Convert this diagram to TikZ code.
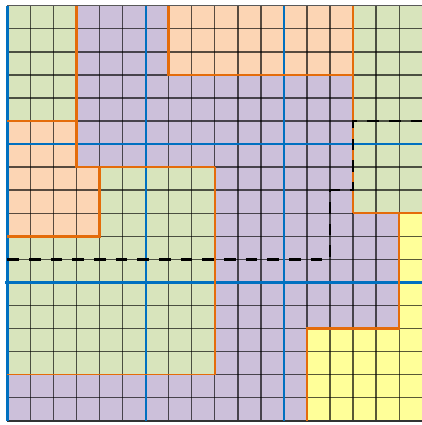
\documentclass[tikz,border=0pt]{standalone}
\usetikzlibrary{calc}
\definecolor{regGreen}{HTML}{D8E4BC}
\definecolor{regPeach}{HTML}{FCD5B4}
\definecolor{regLilac}{HTML}{CCC0DA}
\definecolor{regYellow}{HTML}{FFFF99}
\definecolor{cutOrange}{HTML}{E46C0A}
\definecolor{blockBlue}{HTML}{0070C0}
\begin{document}
\begin{tikzpicture}[y=-1cm, gridln/.style={draw=black, opacity=0.65, line width=1.6pt},
  cutA/.style={draw=cutOrange, line width=3.2pt}, cutB/.style={draw=cutOrange, line width=1.8pt},
  blk/.style={draw=blockBlue, line width=#1}, bnd/.style={draw=black, line width=3pt, dash pattern=on 0.5cm off 0.44cm}]
\useasboundingbox (-0.32,-0.25) rectangle (17.96,18.19);
% regions
\fill[regLilac] (0,0) rectangle (18,18);
\fill[regGreen] (0,0) rectangle (3,5); \fill[regGreen] (15,0) rectangle (18,9);
\fill[regPeach] (7,0) rectangle (15,3); \fill[regPeach] (0,5) -- (3,5) -- (3,7) -- (4,7) -- (4,10) -- (0,10) -- cycle;
\fill[regGreen] (4,7) -- (9,7) -- (9,16) -- (0,16) -- (0,10) -- (4,10) -- cycle;
\fill[regYellow] (17,9) -- (18,9) -- (18,18) -- (13,18) -- (13,14) -- (17,14) -- cycle;
% cells
\foreach \i in {0,...,18} {\draw[gridln] (\i,0) -- (\i,18); \draw[gridln] (0,\i) -- (18,\i);}
\draw[black!80, line width=2.4pt] (0,18) -- (18,18);
% blocks
\draw[blk=2.6pt] (0,6) -- (18,6); \foreach \k in {6,12} \draw[blk=2.6pt] (\k,0) -- (\k,18);
\draw[blk=4.3pt] (0,0) -- (0,18); \draw[blk=4.3pt] (-0.1,12) -- (18,12);
% cuts
\draw[cutA] (3,0) -- (3,7) -- (9,7); \draw[cutA] (4,7) -- (4,10) -- (0,10); \draw[cutA] (7,0) -- (7,3) -- (15,3);
\draw[cutA] (15,9) -- (17,9) -- (17,14) -- (13,14) -- (13,18); \draw[cutA] (17,9) -- (18,9);
\draw[cutB] (0,5) -- (3,5); \draw[cutB] (9,7) -- (9,16) -- (0,16); \draw[cutB] (15,0) -- (15,9);
\draw[bnd] (0,11) -- (14,11) -- (14,8) -- (15,8) -- (15,5) -- (18,5);
\end{tikzpicture}
\end{document}
